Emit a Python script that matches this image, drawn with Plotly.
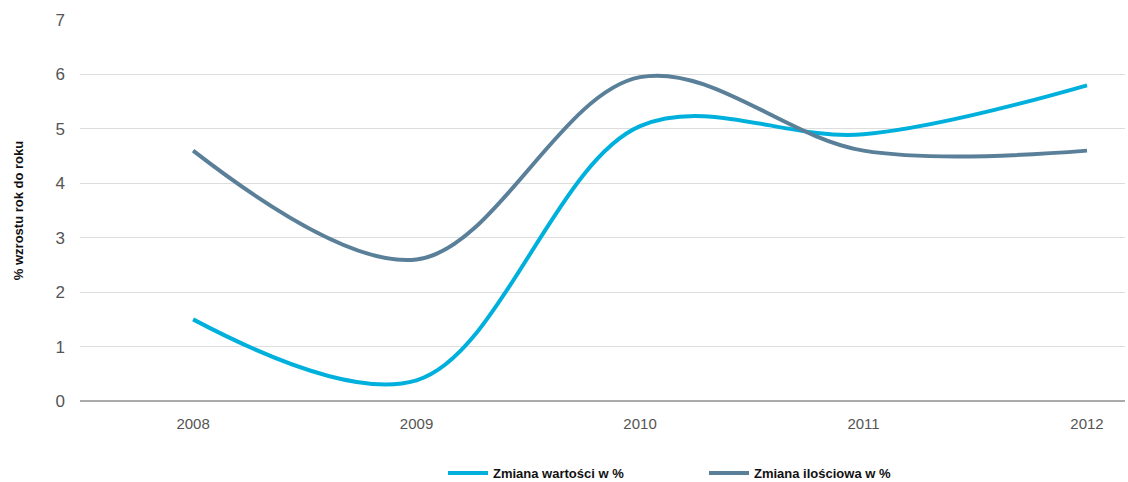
import plotly.graph_objects as go

years = ["2008", "2009", "2010", "2011", "2012"]
wartosc = [1.5, 0.38, 5.05, 4.9, 5.8]
ilosc = [4.6, 2.6, 5.95, 4.6, 4.6]
series_names = ["Zmiana wartości w %", "Zmiana ilościowa w %"]
colors = ["#00b0dc", "#5a7f99"]

idx = list(range(len(years)))
fig = go.Figure()
for vals, name, col in zip([wartosc, ilosc], series_names, colors):
    fig.add_trace(go.Scatter(
        x=idx, y=vals, mode="lines", name=name,
        line=dict(color=col, width=4, shape="spline", smoothing=1.0),
    ))

fig.update_layout(
    width=1128, height=482,
    margin=dict(l=80, r=3, t=20, b=81, autoexpand=False),
    plot_bgcolor="white", paper_bgcolor="white",
    font=dict(family="Liberation Sans, Arial, sans-serif", color="#555555", size=14),
    showlegend=True,
    legend=dict(orientation="h", xref="container", yref="container",
                x=443 / 1128, xanchor="left", y=9 / 482, yanchor="middle",
                font=dict(size=13, color="#111111", family="Liberation Sans, Arial"),
                itemwidth=40, tracegroupgap=0, entrywidthmode="pixels", entrywidth=206),
    xaxis=dict(
        tickmode="array", tickvals=idx, ticktext=years,
        range=[-0.506, 4.17], showgrid=False, zeroline=False, automargin=False,
        showline=False, ticks="", tickfont=dict(size=15, color="#555555"),
        ticklabelstandoff=12,
    ),
    yaxis=dict(
        range=[0, 7], dtick=1, showgrid=True, gridcolor="#dddddd", gridwidth=1,
        zeroline=True, zerolinecolor="#aaaaaa", zerolinewidth=1.5, automargin=False,
        showline=False, ticks="", tickfont=dict(size=17, color="#555555"),
        ticklabelstandoff=14,
        title=dict(text="% wzrostu rok do roku", font=dict(size=13, color="#111111", family="Liberation Sans, Arial"), standoff=28),
    ),
)
fig.update_yaxes(title_font_weight="bold")
fig.update_layout(legend_font_weight="bold")

fig.write_html("out.html", config={"displayModeBar": False},
               post_script="document.body.style.margin='0';document.body.style.overflow='hidden';")
